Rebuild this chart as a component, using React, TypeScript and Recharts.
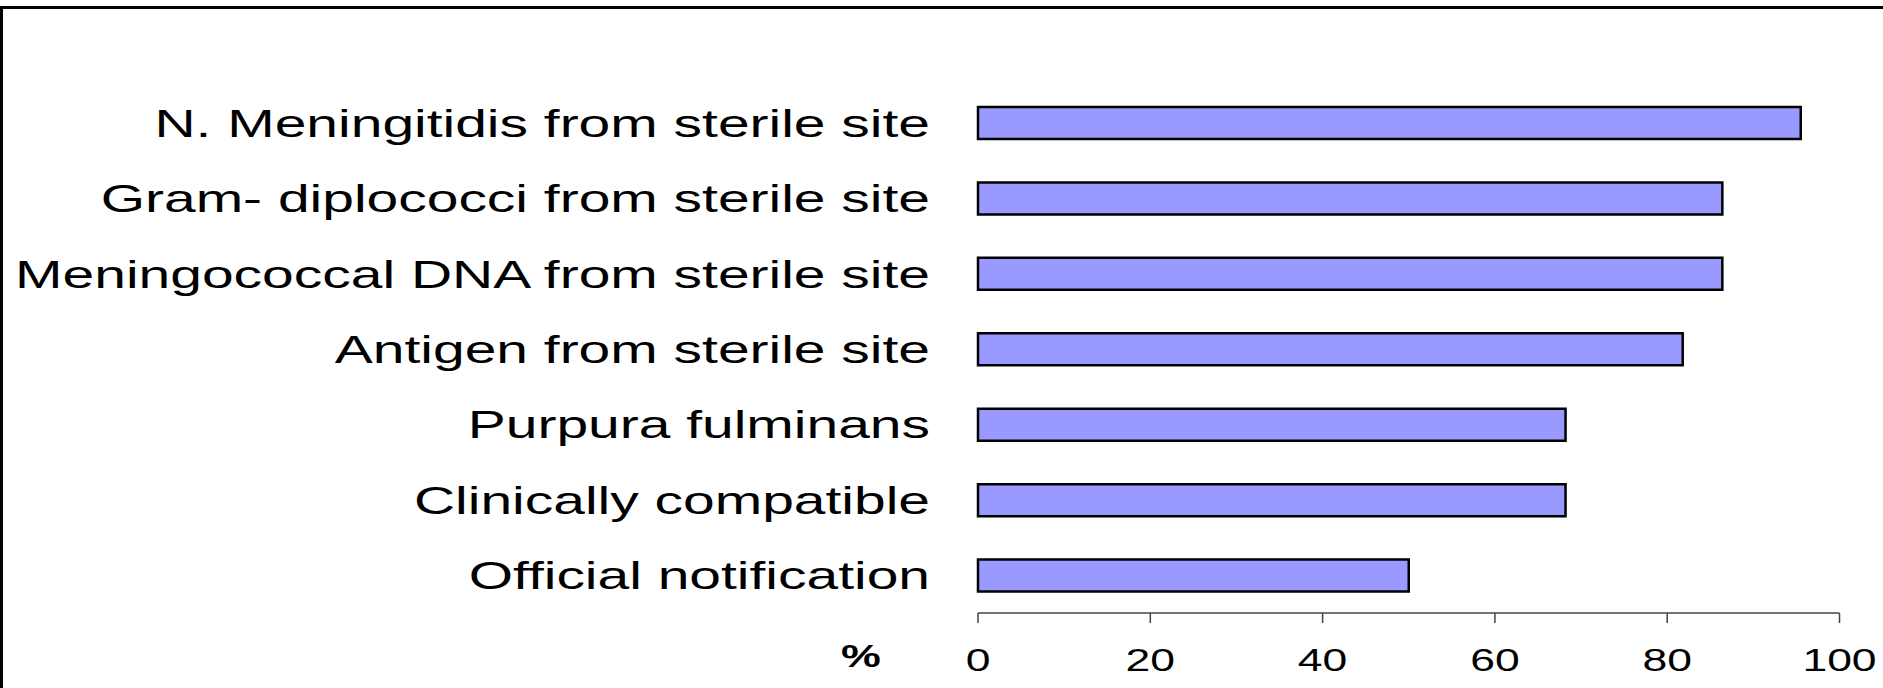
import React from 'react';
import { BarChart, Bar, XAxis, YAxis, Label } from 'recharts';

const categories = [
  'N. Meningitidis from sterile site',
  'Gram- diplococci from sterile site',
  'Meningococcal DNA from sterile site',
  'Antigen from sterile site',
  'Purpura fulminans',
  'Clinically compatible',
  'Official notification',
];
const percentages = [95.5, 86.4, 86.4, 81.8, 68.2, 68.2, 50];
const xTicks = [0, 20, 40, 60, 80, 100];

const data = categories.map((name, i) => ({ name, value: percentages[i] }));

const FONT = '"Liberation Sans", Arial, sans-serif';

// the source picture is stretched sideways, so the text is too
const CategoryTick = ({ x, y, payload }: any) => (
  <g transform={`translate(${x},${y})`}>
    <text transform="scale(1.48,1)" textAnchor="end" dy={14} fontSize={38.5} fontFamily={FONT} fill="#000">
      {payload.value}
    </text>
  </g>
);

const ValueTick = ({ x, y, payload }: any) => (
  <g transform={`translate(${x},${y})`}>
    <text transform="scale(1.39,1)" textAnchor="middle" dy={48} fontSize={32} fontFamily={FONT} fill="#000">
      {payload.value}
    </text>
  </g>
);

const PercentLabel = ({ viewBox }: any) => (
  <g transform={`translate(${viewBox.x - 117},${viewBox.y + 54})`}>
    <text transform="scale(1.4,1)" textAnchor="middle" fontSize={32} fontWeight="bold" fontFamily={FONT} fill="#000">
      %
    </text>
  </g>
);

const App = () => {
  return (
    <div style={{ position: 'absolute', left: 0, top: 0, width: 1883, height: 688, background: '#fff' }}>
      <div
        style={{
          position: 'absolute',
          left: 0,
          top: 6,
          width: 1883,
          height: 682,
          boxSizing: 'border-box',
          borderTop: '3px solid #000',
          borderLeft: '3px solid #000',
        }}
      />
      <div style={{ position: 'absolute', left: 0, top: 0 }}>
        <BarChart
          width={1883}
          height={688}
          data={data}
          layout="vertical"
          margin={{ top: 85, right: 43.5, bottom: 0, left: 0 }}
        >
          <XAxis
            type="number"
            domain={[0, 100]}
            ticks={xTicks}
            height={75}
            stroke="#444"
            strokeWidth={1.5}
            tickSize={10}
            tickMargin={0}
            tick={<ValueTick />}
          >
            <Label content={<PercentLabel />} />
          </XAxis>
          <YAxis
            type="category"
            dataKey="name"
            width={978}
            axisLine={false}
            tickLine={false}
            tickSize={0}
            tickMargin={48}
            tick={<CategoryTick />}
          />
          <Bar dataKey="value" fill="#9999ff" stroke="#000" strokeWidth={2.5} barSize={32} isAnimationActive={false} />
        </BarChart>
      </div>
    </div>
  );
};

export default App;
